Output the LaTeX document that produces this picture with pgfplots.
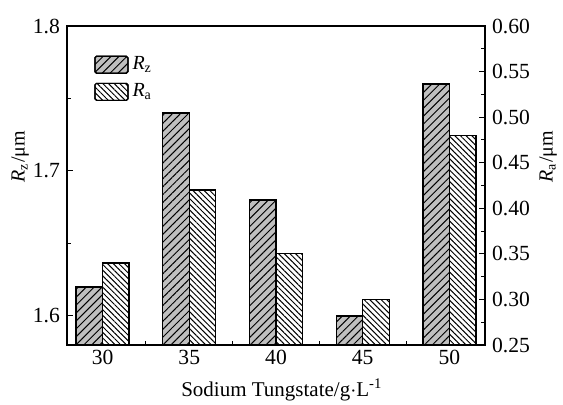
\documentclass[border=0pt]{standalone}
\usepackage{fontspec}
\setmainfont{Liberation Serif}
\usepackage{pgfplots}
\pgfplotsset{compat=1.18}
\usetikzlibrary{patterns.meta}

\pgfplotsset{
  rzbar/.style={draw=black, line width=0.6pt, fill=black!25,
    postaction={pattern={Lines[angle=45,distance=2.8pt,line width=0.5pt]}, pattern color=black}},
  rabar/.style={draw=black, line width=0.6pt, fill=white,
    postaction={pattern={Lines[angle=-45,distance=2pt,line width=0.5pt]}, pattern color=black}},
  boxlegend/.style={legend image code/.code={
    \draw[##1, rounded corners=0.8pt] (0pt,-4.25pt) rectangle (16.5pt,4.25pt);}},
  common/.style={scale only axis, width=209pt, height=159.5pt,
    xmin=-0.41, xmax=4.41,
    /pgf/number format/assume math mode=true,
    tick style={black, line width=0.5pt},
    major tick length=3pt, minor tick length=2pt,
    font=\fontsize{10}{12}\selectfont,
    ticklabel style={font=\fontsize{10.8}{12}\selectfont}},
}

\begin{document}
\begin{tikzpicture}
\useasboundingbox (-33.5pt,-30pt) rectangle (248pt,172.5pt);
\begin{axis}[common,
  axis line style={line width=0.6pt},
  ymin=1.58, ymax=1.8,
  ytick={1.6,1.7,1.8},
  yticklabel style={/pgf/number format/.cd, fixed, precision=1},
  minor y tick num=1,
  ytick pos=left,
  xtick={0,1,2,3,4},
  xticklabels={30,35,40,45,50},
  minor x tick num=1,
  xtick pos=left,
  xticklabel style={yshift=-1.5pt, inner sep=1pt},
  xlabel={Sodium Tungstate/g$\cdot$L\textsuperscript{-1}},
  xlabel style={at={(axis description cs:0.514,-0.14)}, anchor=center, inner sep=1pt, font=\fontsize{10.5}{12}\selectfont},
  ylabel={\textit{R}\textsubscript{z}/μm},
  ylabel style={at={(axis description cs:-0.112,0.59)}, anchor=center},
  legend style={at={(axis description cs:0.05,0.93)}, anchor=north west,
    draw=none, fill=none, row sep=1.5pt, font=\fontsize{10}{12}\selectfont},
  legend cell align=left,
]
\addplot[ybar, bar width=0.306, bar shift=-0.153, rzbar, boxlegend]
  coordinates {(0,1.62) (1,1.74) (2,1.68) (3,1.60) (4,1.76)};
\addlegendentry{\textit{R}\textsubscript{z}}
\addlegendimage{rabar, boxlegend}
\addlegendentry{\textit{R}\textsubscript{a}}
\end{axis}
\begin{axis}[common,
  axis x line=none,
  axis y line*=right,
  axis line style={line width=0.6pt},
  ymin=0.25, ymax=0.60,
  ytick={0.25,0.30,0.35,0.40,0.45,0.50,0.55,0.60},
  yticklabel style={/pgf/number format/.cd, fixed, fixed zerofill, precision=2},
  minor y tick num=1,
  ylabel={\textit{R}\textsubscript{a}/μm},
  ylabel style={at={(axis description cs:1.151,0.59)}, anchor=center},
]
\addplot[ybar, bar width=0.306, bar shift=0.153, rabar]
  coordinates {(0,0.34) (1,0.42) (2,0.35) (3,0.30) (4,0.48)};
\end{axis}
\end{tikzpicture}
\end{document}
